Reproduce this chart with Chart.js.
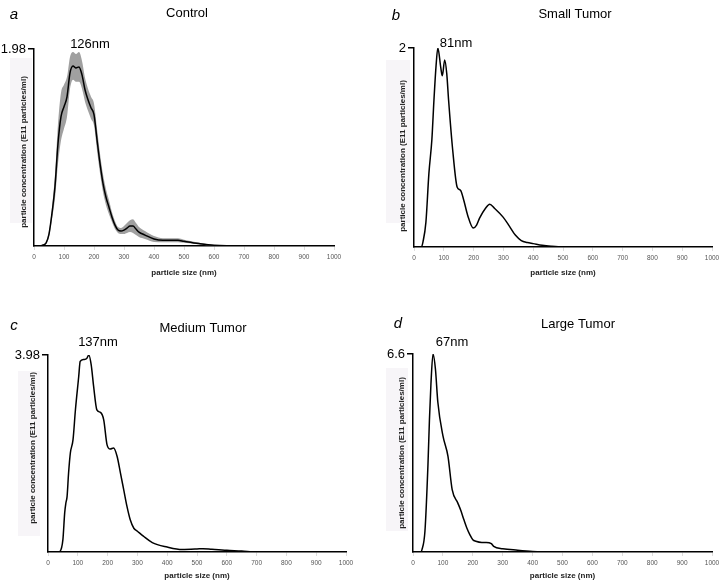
<!DOCTYPE html>
<html lang="en">
<head>
<meta charset="UTF-8">
<title>Particle size distribution</title>
<script src="https://cdn.jsdelivr.net/npm/chart.js@4"></script>
<style>
  body { margin: 0; background: #fff; }
  #wrap { position: relative; width: 726px; height: 586px; }
  #wrap canvas { position: absolute; }
</style>
</head>
<body>
<div id="wrap">
  <canvas id="panelA" width="363" height="293" style="left:0;top:0"></canvas>
  <canvas id="panelB" width="363" height="293" style="left:363px;top:0"></canvas>
  <canvas id="panelC" width="363" height="293" style="left:0;top:293px"></canvas>
  <canvas id="panelD" width="363" height="293" style="left:363px;top:293px"></canvas>
</div>
<script>
// values (size in nm, concentration in E11 particles/ml)
const controlSize = [0,20,30,40,50,60,70,80,90,100,110,120,130,140,150,160,170,180,190,200,210,220,230,240,250,260,270,280,290,300,310,320,330,340,350,370,400,430,450,480,500,550,600,700,800,900,1000];
const controlMean = [0,0,0.01,0.03,0.12,0.33,0.60,1.03,1.30,1.40,1.50,1.74,1.81,1.79,1.80,1.72,1.57,1.47,1.39,1.32,1.07,0.83,0.63,0.49,0.39,0.29,0.21,0.16,0.15,0.16,0.18,0.20,0.20,0.17,0.14,0.11,0.07,0.057,0.057,0.057,0.047,0.024,0.007,0,0,0,0];
const controlErr  = [0,0,0,0.01,0.03,0.06,0.12,0.20,0.24,0.22,0.20,0.16,0.14,0.14,0.15,0.14,0.12,0.11,0.11,0.11,0.11,0.10,0.09,0.08,0.07,0.05,0.04,0.03,0.03,0.04,0.05,0.06,0.07,0.06,0.05,0.04,0.03,0.02,0.02,0.02,0.015,0.008,0.003,0,0,0,0];

const smallSize = [0,25,30,40,50,60,67,74,80,90,95,103,110,116,130,145,156,167,180,199,210,220,240,254,270,299,320,340,360,380,400,430,460,500,1000];
const smallConc = [0,0,0.05,0.25,0.74,1.08,1.48,1.82,2.0,1.80,1.72,1.88,1.74,1.48,0.97,0.60,0.57,0.47,0.32,0.19,0.22,0.29,0.39,0.43,0.39,0.30,0.21,0.12,0.065,0.045,0.034,0.017,0.007,0,0];

const mediumSize = [0,35,40,50,56,60,64,69,75,84,92,103,108,120,130,137,145,153,164,176,187,198,209,220,232,243,254,265,276,288,300,320,350,400,450,500,520,550,600,650,700,1000];
const mediumConc = [0,0,0.01,0.25,0.79,0.99,1.12,1.59,2.0,2.27,2.87,3.54,3.85,3.89,3.91,3.98,3.78,3.35,2.87,2.82,2.67,2.17,2.08,2.10,1.93,1.60,1.26,0.92,0.65,0.48,0.42,0.32,0.19,0.10,0.05,0.06,0.067,0.054,0.034,0.02,0,0];

const largeSize = [0,25,30,40,50,55,60,67,75,83,100,117,131,150,160,170,180,190,200,210,230,245,262,270,300,350,400,450,1000];
const largeConc = [0,0,0.08,0.7,2.9,4.41,5.6,6.6,6.1,5.0,3.88,3.19,2.08,1.63,1.38,1.08,0.80,0.58,0.41,0.36,0.32,0.32,0.28,0.19,0.11,0.06,0.02,0,0];

const panelLetters = ['a', 'b', 'c', 'd'];
const panelTitles = ['Control', 'Small Tumor', 'Medium Tumor', 'Large Tumor'];
const peakLabels = ['126nm', '81nm', '137nm', '67nm'];
const axisMax = [1.98, 2, 3.98, 6.6];
const xTicks = [0, 100, 200, 300, 400, 500, 600, 700, 800, 900, 1000];

const FONT = "'Liberation Sans', Arial, sans-serif";
const yTitleText = 'particle concentration (E11 particles/ml)';

function pts(sizes, values) {
  return sizes.map((s, i) => ({ x: s, y: values[i] }));
}

// letters, titles, peak labels and the rotated y title
const panelText = {
  id: 'panelText',
  beforeDraw(chart, args, o) {
    const ctx = chart.ctx;
    ctx.save();
    ctx.fillStyle = '#f7f5f8';
    ctx.fillRect(o.box[0], o.box[1], o.box[2], o.box[3]);
    ctx.restore();
  },
  afterDraw(chart, args, o) {
    const ctx = chart.ctx;
    ctx.save();
    ctx.fillStyle = '#000';
    ctx.textBaseline = 'middle';
    ctx.textAlign = 'center';
    ctx.font = 'italic 15px ' + FONT;
    ctx.fillText(o.letter, o.letterAt[0], o.letterAt[1]);
    ctx.font = '13px ' + FONT;
    ctx.fillText(o.title, o.titleAt[0], o.titleAt[1]);
    ctx.fillText(o.peak, o.peakAt[0], o.peakAt[1]);
    ctx.translate(o.yTitleAt[0], o.yTitleAt[1]);
    ctx.rotate(-Math.PI / 2);
    ctx.fillStyle = '#222';
    ctx.font = 'bold 8px ' + FONT;
    ctx.fillText(yTitleText, 0, 0);
    ctx.restore();
  }
};

function makeChart(i, datasets, p) {
  const yMax = axisMax[i];
  return new Chart(document.getElementById(p.id), {
    type: 'line',
    data: { datasets: datasets },
    options: {
      responsive: false,
      animation: false,
      devicePixelRatio: 1,
      layout: { padding: { left: 0, right: 363 - p.right, top: p.top, bottom: 0 } },
      elements: { point: { radius: 0 }, line: { cubicInterpolationMode: 'monotone' } },
      plugins: {
        legend: { display: false },
        tooltip: { enabled: false },
        panelText: {
          letter: panelLetters[i], title: panelTitles[i], peak: peakLabels[i],
          letterAt: p.letterAt, titleAt: p.titleAt, peakAt: p.peakAt,
          yTitleAt: p.yTitleAt, box: p.box
        }
      },
      scales: {
        x: {
          type: 'linear', min: 0, max: 1000,
          afterFit: s => { s.height = 293 - p.bottom; },
          afterBuildTicks: s => { s.ticks = xTicks.map(v => ({ value: v })); },
          ticks: { font: { family: FONT, size: 6.5 }, color: '#555', padding: 3, maxRotation: 0, autoSkip: false, callback: v => String(v) },
          grid: { display: true, drawOnChartArea: false, drawTicks: true, tickLength: 4, color: '#ddd' },
          border: { display: true, color: '#000', width: 1.5 },
          title: {
            display: true, text: 'particle size (nm)', color: '#222',
            font: { family: FONT, size: 8, weight: 'bold' },
            padding: { top: 0, bottom: p.xTitlePad }
          }
        },
        y: {
          min: 0, max: yMax,
          afterFit: s => { s.width = p.left; },
          afterBuildTicks: s => { s.ticks = [{ value: yMax }]; },
          ticks: { font: { family: FONT, size: 13 }, color: '#000', padding: 2, callback: v => String(v) },
          grid: { display: true, drawOnChartArea: false, drawTicks: true, tickLength: 6, color: '#000', lineWidth: 1.5 },
          border: { display: true, color: '#000', width: 1.5 }
        }
      }
    },
    plugins: [panelText]
  });
}

function curve(sizes, values) {
  return { data: pts(sizes, values), borderColor: '#000', borderWidth: 1.5, fill: false, order: 0 };
}

// control: mean line with a grey band of +/- error
const upper = controlMean.map((v, i) => v + controlErr[i]);
const lower = controlMean.map((v, i) => Math.max(0, v - controlErr[i]));

makeChart(0, [
  curve(controlSize, controlMean),
  { data: pts(controlSize, upper), borderWidth: 0, backgroundColor: '#a0a0a0', fill: '+1', order: 1 },
  { data: pts(controlSize, lower), borderWidth: 0, fill: false, order: 1 }
], { id: 'panelA', left: 34, right: 334, top: 49, bottom: 246, xTitlePad: 15,
     letterAt: [14, 15], titleAt: [187, 13], peakAt: [90, 44], yTitleAt: [24, 152], box: [10, 58, 22, 165] });

makeChart(1, [curve(smallSize, smallConc)],
   { id: 'panelB', left: 51, right: 349, top: 48, bottom: 247, xTitlePad: 15,
     letterAt: [33, 16], titleAt: [212, 14], peakAt: [93, 43], yTitleAt: [40, 156], box: [23, 60, 24, 163] });

makeChart(2, [curve(mediumSize, mediumConc)],
   { id: 'panelC', left: 48, right: 346, top: 62, bottom: 259, xTitlePad: 5,
     letterAt: [14, 33], titleAt: [203, 35], peakAt: [98, 49], yTitleAt: [33, 155], box: [18, 78, 22, 165] });

makeChart(3, [curve(largeSize, largeConc)],
   { id: 'panelD', left: 50, right: 349, top: 61, bottom: 259, xTitlePad: 5,
     letterAt: [35, 31], titleAt: [215, 31], peakAt: [89, 49], yTitleAt: [39, 160], box: [23, 75, 22, 163] });
</script>
</body>
</html>
